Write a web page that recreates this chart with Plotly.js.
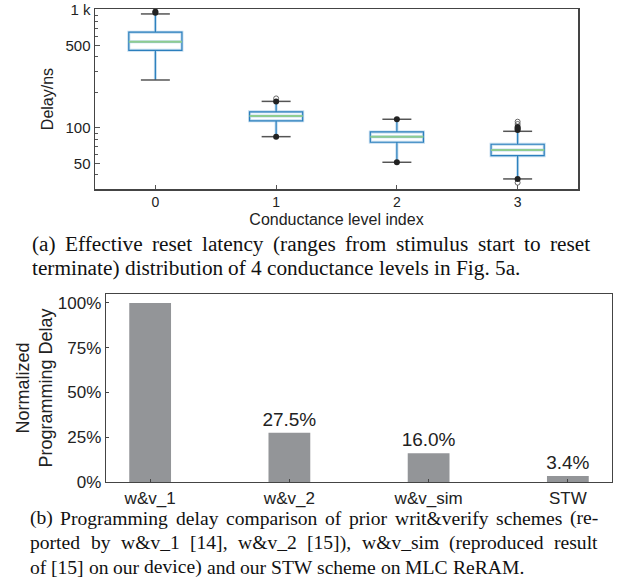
<!DOCTYPE html>
<html><head><meta charset="utf-8">
<script src="https://cdn.plot.ly/plotly-3.0.1.min.js"></script>
<style>html,body{margin:0;padding:0;background:#fff}#chart{width:628px;height:579px}</style>
</head><body><div id="chart"></div>
<script>
// ---- data: panel (a) ----
const levels = [0, 1, 2, 3];
const levelLabels = ['0', '1', '2', '3'];
const q1 = [455, 115, 75.7, 58.2];
const median = [538, 126, 84.4, 65.2];
const q3 = [648, 137, 92.5, 72.8];
const lowerFence = [255, 84.4, 51.2, 37];
const upperFence = [925, 168, 118.5, 93.7];
const filledOutX = [0, 0, 1, 1, 2, 2, 3, 3, 3, 3];
const filledOutY = [948, 968, 168, 84.4, 118.5, 51.2, 96, 99, 102, 37];
const openOutX = [1, 3, 3, 3];
const openOutY = [178, 108, 113, 34.4];
const yTickVals = [50, 100, 500, 1000];
const yTickText = ['50', '100', '500', '1 k'];
// ---- data: panel (b) ----
const schemes = ['w&v_1', 'w&v_2', 'w&v_sim', 'STW'];
const delayPct = [100, 27.5, 16.0, 3.4];
const delayLabels = ['', '27.5%', '16.0%', '3.4%'];
const pctTicks = [0, 25, 50, 75, 100];
const pctTickText = ['0%', '25%', '50%', '75%', '100%'];
// ---- captions ----
const captionA = [
  '(a) Effective reset latency (ranges from stimulus start to reset',
  'terminate) distribution of 4 conductance levels in Fig. 5a.'
];
const captionB = [
  '(b) Programming delay comparison of prior writ&verify schemes (re-',
  'ported by w&v_1 [14], w&v_2 [15]), w&v_sim (reproduced result',
  'of [15] on our device) and our STW scheme on MLC ReRAM.'
];

const W = 628, H = 579;
const px = x => x / W, py = y => 1 - y / H;
const esc = s => s.replace(/&/g, '&amp;');

const boxHalf = 0.22, capHalf = 0.12;
function segs(xs, ys, half) {
  const X = [], Y = [];
  xs.forEach((c, i) => { X.push(c - half, c + half, null); Y.push(ys[i], ys[i], null); });
  return {X, Y};
}
const med = segs(levels, median, boxHalf);
const capLo = segs(levels, lowerFence, capHalf);
const capHi = segs(levels, upperFence, capHalf);
const caps = {X: capLo.X.concat(capHi.X), Y: capLo.Y.concat(capHi.Y)};

const boxCommon = {
  type: 'box', x: levels, q1: q1, median: median, q3: q3,
  lowerfence: lowerFence, upperfence: upperFence,
  width: 2 * boxHalf, whiskerwidth: 0, boxpoints: false,
  xaxis: 'x', yaxis: 'y', showlegend: false, hoverinfo: 'skip'
};
const sans = 'Liberation Sans, Arial, sans-serif';
const traces = [
  Object.assign({}, boxCommon, {line: {color: '#c3dcef', width: 3}, fillcolor: 'rgba(255,255,255,0)'}),
  Object.assign({}, boxCommon, {line: {color: '#2b7fbd', width: 1.2}, fillcolor: 'rgba(255,255,255,0)'}),
  {type: 'scatter', mode: 'lines', x: med.X, y: med.Y, line: {color: '#8fcd90', width: 2}, xaxis: 'x', yaxis: 'y', showlegend: false},
  {type: 'scatter', mode: 'lines', x: caps.X, y: caps.Y, line: {color: '#555', width: 1.5}, xaxis: 'x', yaxis: 'y', showlegend: false},
  {type: 'scatter', mode: 'markers', x: openOutX, y: openOutY, marker: {symbol: 'circle-open', size: 5, color: '#666', line: {width: 1}}, xaxis: 'x', yaxis: 'y', showlegend: false},
  {type: 'scatter', mode: 'markers', x: filledOutX, y: filledOutY, marker: {size: 6, color: '#222'}, xaxis: 'x', yaxis: 'y', showlegend: false},
  {type: 'bar', x: [0, 1, 2, 3], y: delayPct, width: 0.3, marker: {color: '#939598'},
   text: delayLabels, textposition: 'outside', cliponaxis: false, constraintext: 'none',
   textfont: {family: sans, size: 19, color: '#222'},
   xaxis: 'x2', yaxis: 'y2', showlegend: false}
];

// caption layout (justified lines via measured word widths)
const ctx = document.createElement('canvas').getContext('2d');
function captionAnns(lines, size, left, right, yStart, lineH) {
  ctx.font = size + 'px "Liberation Serif"';
  const anns = [];
  lines.forEach((line, li) => {
    const words = line.split(' ');
    const ws = words.map(w => ctx.measureText(w).width);
    const sum = ws.reduce((a, b) => a + b, 0);
    const last = li === lines.length - 1;
    const gap = last ? ctx.measureText(' ').width : (right - left - sum) / (words.length - 1);
    let x = left;
    words.forEach((w, i) => {
      anns.push({text: esc(w), xref: 'paper', yref: 'paper', x: px(x), y: py(yStart + li * lineH),
        xanchor: 'left', yanchor: 'middle', showarrow: false, borderpad: 0, borderwidth: 0,
        font: {family: 'Liberation Serif, Times New Roman, serif', size: size, color: '#111'}});
      x += ws[i] + gap;
    });
  });
  return anns;
}
const annA = captionAnns(captionA, 21.3, 32, 590, 244, 24);
const annB = captionAnns(captionB, 19.6, 30, 598, 518, 24.5);

const layout = {
  width: W, height: H, margin: {l: 0, r: 0, t: 0, b: 0},
  paper_bgcolor: '#fff', plot_bgcolor: '#fff', showlegend: false,
  font: {family: sans, color: '#222'},
  xaxis: {domain: [px(95), px(578)], range: [-0.5, 3.5], tickvals: levels, ticktext: levelLabels,
    ticks: 'inside', ticklen: 4, tickcolor: '#555', showline: true, mirror: true, linecolor: '#444', linewidth: 1.5,
    showgrid: false, zeroline: false, tickfont: {size: 14, family: sans},
    title: {text: 'Conductance level index', font: {size: 16, family: sans}, standoff: 4}, anchor: 'y'},
  yaxis: {domain: [py(189), py(9)], type: 'log', range: [Math.log10(30.4), 3.008],
    tickvals: yTickVals, ticktext: yTickText, ticks: 'inside', ticklen: 5, tickcolor: '#555',
    minor: {tickmode: 'array', tickvals: [40, 60, 70, 80, 90, 200, 300, 400, 600, 700, 800, 900], ticks: 'inside', ticklen: 3, tickcolor: '#555', showgrid: false},
    showline: true, mirror: true, linecolor: '#444', linewidth: 1.5, showgrid: false, zeroline: false,
    tickfont: {size: 15, family: sans},
    title: {text: 'Delay/ns', font: {size: 16, family: sans}, standoff: 8}, anchor: 'x'},
  xaxis2: {domain: [px(106), px(612)], range: [-0.317, 3.317], tickvals: [0, 1, 2, 3], ticktext: schemes.map(esc),
    ticks: 'inside', ticklen: 3, tickcolor: '#444', showline: true, mirror: true, linecolor: '#444', linewidth: 1.3,
    showgrid: false, zeroline: false, tickfont: {size: 17, family: sans}, anchor: 'y2'},
  yaxis2: {domain: [py(482), py(294)], range: [0, 105], tickvals: pctTicks, ticktext: pctTickText,
    ticks: 'inside', ticklen: 3, tickcolor: '#444', showline: true, mirror: true, linecolor: '#444', linewidth: 1.3,
    showgrid: false, zeroline: false, tickfont: {size: 17, family: sans},
    title: {text: 'Normalized<br>Programming Delay', font: {size: 18, family: sans}, standoff: 0}, anchor: 'x2'},
  annotations: annA.concat(annB)
};
Plotly.newPlot('chart', traces, layout, {displayModeBar: false, staticPlot: true});
</script></body></html>
